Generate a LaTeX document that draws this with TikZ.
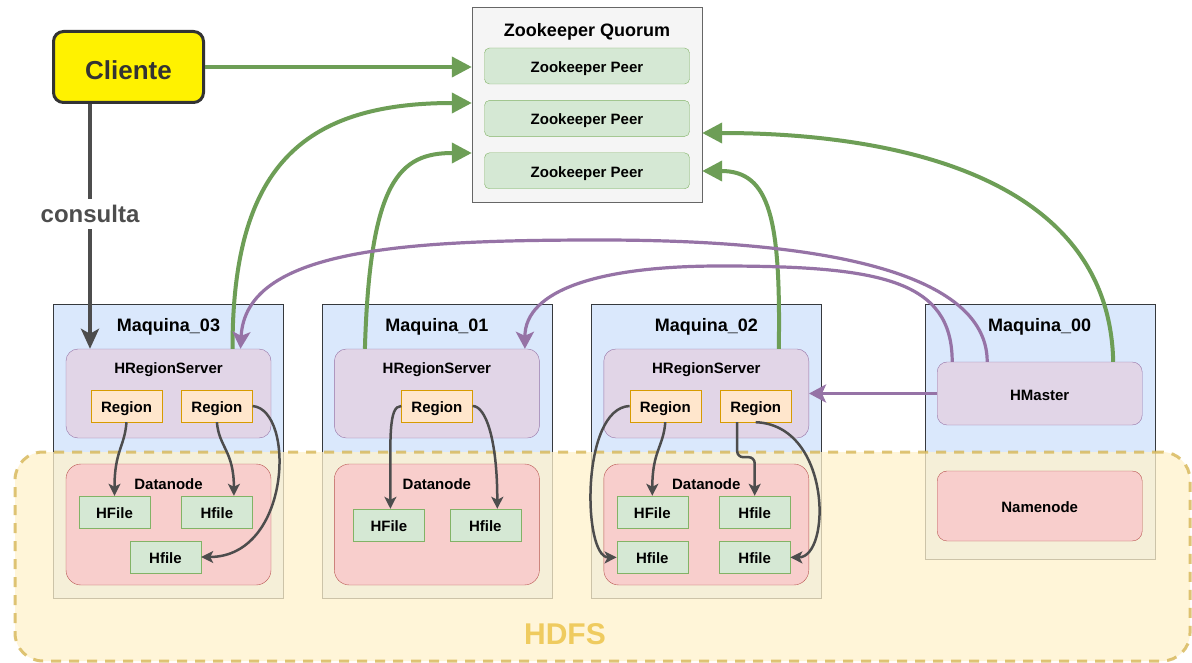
\documentclass[tikz,border=0pt]{standalone}
\usepackage{fontspec}
\setmainfont{Liberation Sans}
\usetikzlibrary{arrows.meta,positioning}

\definecolor{zkgreen}{HTML}{6D9E56}
\definecolor{hmpurple}{HTML}{9673A6}
\definecolor{darkline}{HTML}{4D4D4D}
\definecolor{quorumfill}{HTML}{F5F5F5}
\definecolor{quorumline}{HTML}{666666}
\definecolor{peerfill}{HTML}{D5E8D4}
\definecolor{peerline}{HTML}{82B366}
\definecolor{machfill}{HTML}{DAE8FC}
\definecolor{machline}{HTML}{36393D}
\definecolor{srvfill}{HTML}{E1D5E7}
\definecolor{srvline}{HTML}{9673A6}
\definecolor{regfill}{HTML}{FFE6CC}
\definecolor{regline}{HTML}{D79B00}
\definecolor{dnfill}{HTML}{F8CECC}
\definecolor{dnline}{HTML}{B85450}
\definecolor{hdfsfill}{HTML}{FFF2CC}
\definecolor{hdfsline}{HTML}{D6B656}
\definecolor{hdfstext}{HTML}{EFCB5F}

\tikzset{
  txt/.style={inner sep=0pt, text height=13pt, text depth=0pt, font=\fontsize{15}{18}\selectfont\bfseries},
  titletxt/.style={txt, text height=13pt, font=\fontsize{18}{22}\selectfont\bfseries},
  cliente/.style={txt, draw=black!80, line width=3pt, fill=yellow, rounded corners=10pt,
    minimum width=150pt, minimum height=71pt, text=black!80, text height=24.6pt,
    font=\fontsize{26}{30}\selectfont\bfseries},
  quorum/.style={draw=quorumline, fill=quorumfill, minimum width=230pt, minimum height=195pt},
  peer/.style={txt, draw=peerline, fill=peerfill, rounded corners=5pt, minimum width=205pt, minimum height=36pt},
  maquina/.style={draw=machline, fill=machfill, minimum width=230pt, minimum height=294pt},
  server/.style={txt, draw=srvline, fill=srvfill, rounded corners=12pt, minimum width=205pt, minimum height=89pt},
  region/.style={txt, draw=regline, fill=regfill, minimum width=71pt, minimum height=32pt},
  datanode/.style={txt, draw=dnline, fill=dnfill, rounded corners=15pt, minimum width=205pt, minimum height=121pt},
  hfile/.style={txt, draw=peerline, fill=peerfill, minimum width=71pt, minimum height=32pt},
  hdfs/.style={draw=hdfsline, draw opacity=0.8, fill=hdfsfill, fill opacity=0.75, line width=3pt,
    dash pattern=on 10pt off 8pt, rounded corners=28pt, minimum width=1175pt, minimum height=209pt},
  zkarrow/.style={zkgreen, line width=4pt, -{Triangle[length=20pt,width=20pt]}},
  hmarrow/.style={hmpurple, line width=3.2pt, -{Stealth[length=17pt,width=18pt,inset=4pt]}},
  consulta/.style={darkline, line width=4.5pt, -{Stealth[length=20pt,width=18pt,inset=5pt]}},
  rarrow/.style={darkline, line width=2.5pt, -{Stealth[length=12pt,width=12pt,inset=3pt]}}
}

\begin{document}
\begin{tikzpicture}[x=1pt, y=-1pt]
      \path[use as bounding box, fill=white] (0,0) rectangle (1192,663);

      \node[cliente]  (cliente)  at (128.5,67)                      {Cliente};
      \node[quorum]   (zk)       at (587,104.5)                     {};
      \node[titletxt] (zktitle)  at ([yshift=-23pt]zk.north)        {Zookeeper Quorum};
      \node[peer]     (zp1)      [below=41pt of zk.north]           {Zookeeper Peer};
      \node[peer]     (zp2)      [below=16pt of zp1]                {Zookeeper Peer};
      \node[peer]     (zp3)      [below=16pt of zp2]                {Zookeeper Peer};

      \node[maquina]  (m03)      at (168.5,451)                     {};
      \node[maquina]  (m01)      [right=38pt of m03]                {};
      \node[maquina]  (m02)      [right=39pt of m01]                {};
      \node[maquina, minimum height=255pt]  (m00)
                        [below right=0pt and 103pt of m02.north east] {};

      \node[hdfs]     (hdfs)     at (602.5,556.5)                   {};
      \node[txt, text height=21.5pt, font=\fontsize{30}{36}\selectfont\bfseries, text=hdfstext]  (hdfslbl)
                        at ([xshift=-37.5pt, yshift=29pt]hdfs.south)  {HDFS};

      \node[titletxt] (t03)      at ([yshift=-21pt]m03.north)       {Maquina\_03};
      \node[titletxt] (t01)      at ([yshift=-21pt]m01.north)       {Maquina\_01};
      \node[titletxt] (t02)      at ([yshift=-21pt]m02.north)       {Maquina\_02};
      \node[titletxt] (t00)      at ([yshift=-21pt]m00.north)       {Maquina\_00};

      \node[server]   (hrs03)    [below=45pt of m03.north]          {};
      \node[server]   (hrs01)    [below=45pt of m01.north]          {};
      \node[server]   (hrs02)    [below=45pt of m02.north]          {};
      \node[server, minimum height=63pt, rounded corners=10pt]  (hmaster)
                        [below=58pt of m00.north]                   {HMaster};
      \node[txt]      (hrs03t)   at ([yshift=-18pt]hrs03.north)     {HRegionServer};
      \node[txt]      (hrs01t)   at ([yshift=-18pt]hrs01.north)     {HRegionServer};
      \node[txt]      (hrs02t)   at ([yshift=-18pt]hrs02.north)     {HRegionServer};

      \node[region]   (r03a)     [below right=41pt and 25pt of hrs03.north west] {Region};
      \node[region]   (r03b)     [right=19pt of r03a]               {Region};
      \node[region]   (r01)      [below=41pt of hrs01.north]        {Region};
      \node[region]   (r02a)     [below right=41pt and 26pt of hrs02.north west] {Region};
      \node[region]   (r02b)     [right=19pt of r02a]               {Region};

      \node[datanode] (dn03)     [below=160pt of m03.north]         {};
      \node[datanode] (dn01)     [below=160pt of m01.north]         {};
      \node[datanode] (dn02)     [below=160pt of m02.north]         {};
      \node[datanode, minimum height=70pt, rounded corners=10pt]  (nn)
                        [below=167pt of m00.north]                  {Namenode};
      \node[txt]      (dn03t)    at ([yshift=-19pt]dn03.north)      {Datanode};
      \node[txt]      (dn01t)    at ([yshift=-19pt]dn01.north)      {Datanode};
      \node[txt]      (dn02t)    at ([yshift=-19pt]dn02.north)      {Datanode};

      \node[hfile]    (hf03a)    [below right=32pt and 13pt of dn03.north west] {HFile};
      \node[hfile]    (hf03b)    [right=31pt of hf03a]              {Hfile};
      \node[hfile]    (hf03c)    [below right=77pt and 64pt of dn03.north west] {Hfile};
      \node[hfile]    (hf01a)    [below right=45pt and 19pt of dn01.north west] {HFile};
      \node[hfile]    (hf01b)    [right=25pt of hf01a]              {Hfile};
      \node[hfile]    (hf02a)    [below right=32pt and 13pt of dn02.north west] {HFile};
      \node[hfile]    (hf02b)    [right=31pt of hf02a]              {Hfile};
      \node[hfile]    (hf02c)    [below=13pt of hf02a]              {Hfile};
      \node[hfile]    (hf02d)    [below=13pt of hf02b]              {Hfile};

      \coordinate (top03) at (600,240);
      \coordinate (top01) at (720,266);

      \draw[consulta] ([xshift=-38.5pt]cliente.south) -- ([xshift=-38.5pt]cliente.south |- hrs03.north)
            node[pos=0.45, fill=white, text=darkline, inner xsep=1pt, inner ysep=6pt,
                 font=\fontsize{24}{28}\selectfont\bfseries] (lblq) {consulta};

      \draw[zkarrow] (cliente.east) -- (cliente.east -| zk.west);
      \draw[zkarrow] ([xshift=64pt]hrs03.north) .. controls +(0,-179) and +(-172,0) .. ([yshift=1.5pt]zk.west);
      \draw[zkarrow] ([xshift=-72pt]hrs01.north) .. controls +(5,-169) and +(-72,0) .. ([yshift=-48.5pt]zk.west);
      \draw[zkarrow] ([xshift=72.5pt]hrs02.north) .. controls +(2,-129) and +(68,0) .. ([yshift=-66.5pt]zk.east);
      \draw[zkarrow] ([xshift=73.5pt]hmaster.north) .. controls +(-4,-192) and +(178,0) .. ([yshift=-28.5pt]zk.east);

      \draw[hmarrow] ([xshift=-52.5pt]hmaster.north) .. controls +(0,-72) and +(280,0) .. (top03)
                     .. controls +(-200,0) and +(5,-99) .. ([xshift=72pt]hrs03.north);
      \draw[hmarrow] ([xshift=-87.5pt]hmaster.north) .. controls +(0,-82) and +(160,0) .. (top01)
                     .. controls +(-120,0) and +(0,-59) .. ([xshift=88pt]hrs01.north);
      \draw[hmarrow] (hmaster.west) -- (hmaster.west -| hrs02.east);

      \draw[rarrow] (r03a.south) .. controls +(-2,25) and +(0,-45) .. (hf03a.north);
      \draw[rarrow] (r03b.south) .. controls +(2,25) and +(0,-45) .. ([xshift=17pt]hf03b.north);
      \draw[rarrow] (r03b.east) .. controls +(43,4) and +(90,0) .. (hf03c.east);
      \draw[rarrow] (r01.west) .. controls +(-13,0) and +(0,-70) .. ([xshift=1.5pt]hf01a.north);
      \draw[rarrow] (r01.east) .. controls +(13,0) and +(0,-70) .. ([xshift=12pt]hf01b.north);
      \draw[rarrow] (r02a.south) .. controls +(-2,25) and +(0,-45) .. (hf02a.north);
      \draw[rarrow] (r02a.west) .. controls +(-49,2) and +(-34,0) .. (hf02c.west);
      \draw[rarrow, rounded corners=6pt] ([xshift=-18.5pt]r02b.south) -- ++(0,35) -| (hf02b.north);
      \draw[rarrow] (r02b.south) .. controls +(76,3) and +(41,0) .. (hf02d.east);
\end{tikzpicture}
\end{document}
